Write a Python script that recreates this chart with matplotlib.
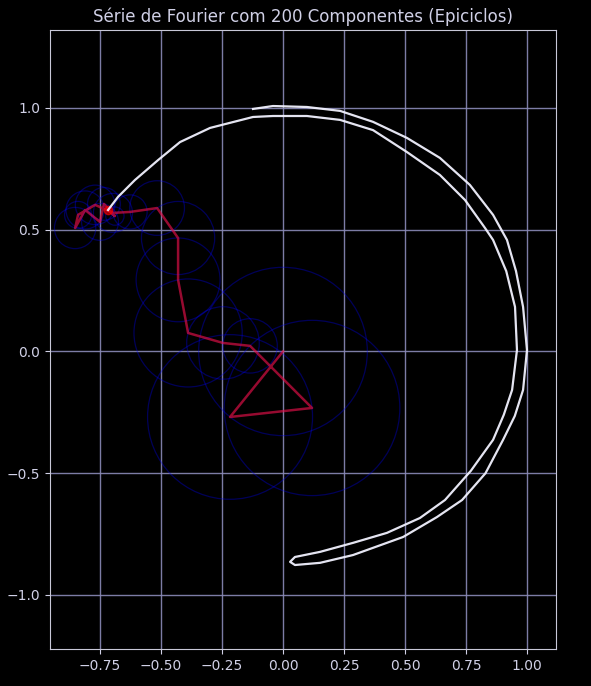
import numpy as np
import matplotlib
matplotlib.use("Agg")
import matplotlib.pyplot as plt

# tip trace (outer pass clockwise, turn at bottom, back along inner pass to the tip)
trace_x = [-0.123, -0.041, 0.098, 0.234, 0.369, 0.508, 0.643, 0.766, 0.861, 0.918,
           0.955, 0.984, 1.000, 0.984, 0.950, 0.902, 0.830, 0.734, 0.631, 0.492,
           0.287, 0.152, 0.049, 0.029, 0.049, 0.152, 0.287, 0.426, 0.561, 0.664,
           0.770, 0.861, 0.905, 0.939, 0.959, 0.951, 0.915, 0.861, 0.828, 0.746,
           0.643, 0.508, 0.369, 0.234, 0.098, -0.041, -0.123, -0.299, -0.422, -0.512,
           -0.607, -0.676, -0.717]
trace_y = [0.996, 1.008, 1.004, 0.988, 0.943, 0.877, 0.795, 0.684, 0.561, 0.458,
           0.330, 0.183, 0.006, -0.158, -0.265, -0.363, -0.500, -0.610, -0.680, -0.762,
           -0.836, -0.868, -0.877, -0.864, -0.844, -0.823, -0.786, -0.745, -0.684, -0.610,
           -0.490, -0.363, -0.260, -0.158, 0.006, 0.183, 0.330, 0.458, 0.507, 0.622,
           0.725, 0.819, 0.909, 0.951, 0.967, 0.967, 0.963, 0.918, 0.860, 0.786,
           0.704, 0.635, 0.581]

# epicycle chain (start of each arm = centre of its circle)
arm_x = [0.000, -0.217, 0.119, -0.135, -0.246, -0.389, -0.430, -0.430, -0.516, -0.627,
         -0.697, -0.770, -0.840, -0.852, -0.811, -0.750, -0.734, -0.689, -0.717]
arm_y = [0.000, -0.269, -0.232, 0.023, 0.035, 0.076, 0.294, 0.466, 0.589, 0.573,
         0.569, 0.602, 0.561, 0.507, 0.581, 0.532, 0.606, 0.556, 0.581]

txt = '#d0d0e6'
fig = plt.figure(figsize=(5.91, 6.86), dpi=100, facecolor='black')
ax = fig.add_axes([0.0846, 0.0539, 0.8562, 0.9023])
ax.set_facecolor('black')

for i in range(len(arm_x) - 1):
    r = np.hypot(arm_x[i + 1] - arm_x[i], arm_y[i + 1] - arm_y[i])
    ax.add_patch(plt.Circle((arm_x[i], arm_y[i]), r, fill=False, color='blue', alpha=0.35, lw=0.9))

ax.plot(arm_x, arm_y, color='#e8104a', alpha=0.65, lw=1.8)
ax.plot(arm_x[-1], arm_y[-1], 'o', color='red', alpha=0.6, ms=6)
ax.plot(trace_x, trace_y, color='#f2f2ff', lw=1.6, alpha=0.95)

ax.set_xlim(-0.955, 1.119)
ax.set_ylim(-1.222, 1.320)
ax.set_xticks([-0.75, -0.5, -0.25, 0.0, 0.25, 0.5, 0.75, 1.0])
ax.set_yticks([-1.0, -0.5, 0.0, 0.5, 1.0])
ax.grid(True, color='#8a8ab8', lw=1, alpha=0.9)
ax.set_axisbelow(True)
for s in ax.spines.values():
    s.set_color('#c8c8d8')
ax.tick_params(colors=txt, labelcolor=txt)
ax.set_title('Série de Fourier com 200 Componentes (Epiciclos)', color=txt, fontsize=12)

fig.savefig('out.png', dpi=100, facecolor='black')
